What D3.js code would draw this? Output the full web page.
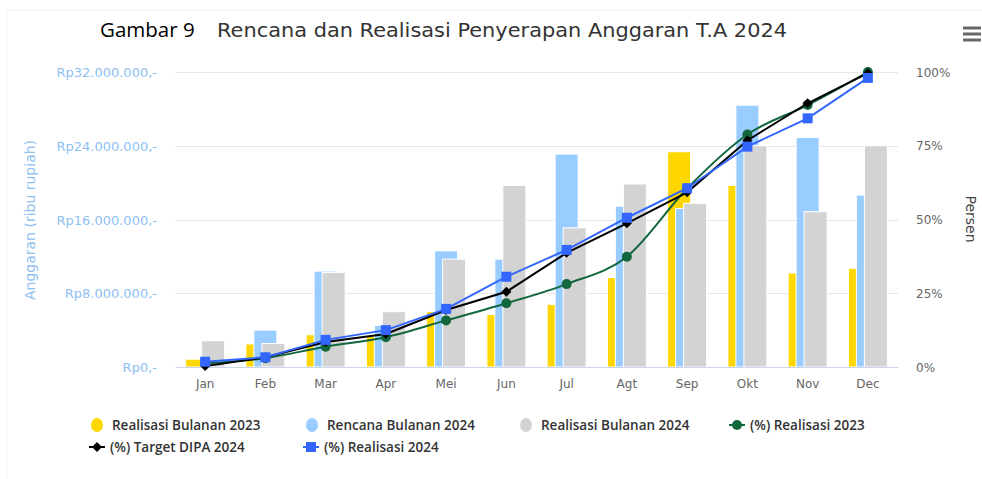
<!DOCTYPE html>
<html>
<head>
<meta charset="utf-8">
<script src="https://cdn.jsdelivr.net/npm/d3@7"></script>
<style>
  body { margin: 0; background: #fff; }
  svg { display: block; }
</style>
</head>
<body>
<svg id="chart" width="982" height="479"></svg>
<script>
// data (anggaran dalam juta rupiah, persen kumulatif)
const months = ['Jan', 'Feb', 'Mar', 'Apr', 'Mei', 'Jun', 'Jul', 'Agt', 'Sep', 'Okt', 'Nov', 'Dec']
const realisasiBulanan2023 = [0.85, 2.5, 3.5, 3.3, 6.0, 5.7, 6.8, 9.7, 23.35, 19.7, 10.2, 10.7]
const rencanaBulanan2024 = [0, 4.0, 10.4, 4.5, 12.6, 11.7, 23.1, 17.45, 17.2, 28.4, 24.9, 18.65]
const realisasiBulanan2024 = [2.85, 2.55, 10.25, 6.0, 11.7, 19.7, 15.1, 19.85, 17.75, 24.0, 16.85, 24.0]
const persenRealisasi2023 = [1.2, 3.0, 6.9, 10.1, 15.8, 21.6, 28.1, 37.4, 60.5, 78.8, 88.8, 100]
const persenTargetDipa2024 = [0.3, 3.3, 8.5, 11.2, 19.3, 25.5, 38.7, 48.7, 59.2, 76.8, 89.4, 99.6]
const persenRealisasi2024 = [1.8, 3.3, 9.2, 12.5, 19.7, 30.6, 39.7, 50.6, 60.6, 74.7, 84.3, 98.0]
const leftTicks = [0, 8, 16, 24, 32]
const rightTicks = [0, 25, 50, 75, 100]

const svg = d3.select('#chart')
const plot = { left: 175, right: 898, top: 72, bottom: 367 }

const barSeries = [
  { name: 'Realisasi Bulanan 2023', values: realisasiBulanan2023, color: '#ffd700' },
  { name: 'Rencana Bulanan 2024', values: rencanaBulanan2024, color: '#99ccff' },
  { name: 'Realisasi Bulanan 2024', values: realisasiBulanan2024, color: '#d3d3d3' }
]
const lineSeries = [
  { name: '(%) Realisasi 2023', values: persenRealisasi2023, color: '#12673d', marker: 'circle', curve: d3.curveMonotoneX },
  { name: '(%) Target DIPA 2024', values: persenTargetDipa2024, color: '#000000', marker: 'diamond', curve: d3.curveLinear },
  { name: '(%) Realisasi 2024', values: persenRealisasi2024, color: '#3366ff', marker: 'square', curve: d3.curveLinear }
]

const x = d3.scaleBand().domain(months).range([plot.left, plot.right])
const offset = d3.scalePoint().domain(barSeries.map(s => s.name)).range([-8, 8])
const barWidth = 23
const yLeft = d3.scaleLinear().domain([0, 32]).range([plot.bottom, plot.top])
const yRight = d3.scaleLinear().domain([0, 100]).range([plot.bottom, plot.top])

const rupiah = v => 'Rp' + d3.format(',')(v * 1e6).replace(/,/g, '.') + ',-'

// chart frame
svg.append('path')
  .attr('d', 'M6.5,479 V10.5 H982')
  .attr('fill', 'none')
  .attr('stroke', '#f3f3f3')

// titles
svg.append('text')
  .attr('x', 100).attr('y', 37)
  .attr('font-family', 'Open Sans, sans-serif')
  .attr('font-size', 20.5)
  .attr('fill', '#000')
  .text('Gambar 9')

svg.append('text')
  .attr('x', 217).attr('y', 37)
  .attr('font-family', 'DejaVu Sans, sans-serif')
  .attr('font-size', 19)
  .attr('fill', '#333')
  .attr('textLength', 570)
  .attr('lengthAdjust', 'spacingAndGlyphs')
  .text('Rencana dan Realisasi Penyerapan Anggaran T.A 2024')

// hamburger
svg.append('g').selectAll('line')
  .data([28, 34, 40])
  .enter()
  .append('line')
  .attr('x1', 963).attr('x2', 981)
  .attr('y1', d => d).attr('y2', d => d)
  .attr('stroke', '#666')
  .attr('stroke-width', 3)

// grid
svg.append('g').selectAll('line')
  .data(leftTicks.slice(1))
  .enter()
  .append('line')
  .attr('x1', plot.left).attr('x2', plot.right)
  .attr('y1', d => Math.round(yLeft(d)) + 0.5).attr('y2', d => Math.round(yLeft(d)) + 0.5)
  .attr('stroke', '#e6e6e6')

// left axis
const leftAxis = svg.append('g')
  .attr('transform', `translate(${plot.left - 10},0)`)
  .call(d3.axisLeft(yLeft).tickValues(leftTicks).tickFormat(rupiah).tickSize(0).tickPadding(8))
leftAxis.select('.domain').remove()
leftAxis.selectAll('text')
  .attr('font-family', 'DejaVu Sans, sans-serif')
  .attr('font-size', 13)
  .attr('fill', '#8ec0f2')
  .attr('dy', '0.35em')

svg.append('text')
  .attr('transform', 'translate(35,220) rotate(-90)')
  .attr('text-anchor', 'middle')
  .attr('font-family', 'DejaVu Sans, sans-serif')
  .attr('font-size', 14)
  .attr('fill', '#8ec0f2')
  .text('Anggaran (ribu rupiah)')

// right axis
const rightAxis = svg.append('g')
  .attr('transform', `translate(${plot.right + 10},0)`)
  .call(d3.axisRight(yRight).tickValues(rightTicks).tickFormat(d => d + '%').tickSize(0).tickPadding(8))
rightAxis.select('.domain').remove()
rightAxis.selectAll('text')
  .attr('font-family', 'DejaVu Sans, sans-serif')
  .attr('font-size', 12)
  .attr('fill', '#666')
  .attr('dy', '0.35em')

svg.append('text')
  .attr('transform', 'translate(966,219) rotate(90)')
  .attr('text-anchor', 'middle')
  .attr('font-family', 'DejaVu Sans, sans-serif')
  .attr('font-size', 14)
  .attr('fill', '#444')
  .text('Persen')

// bars
barSeries.forEach(s => {
  svg.append('g').selectAll('rect')
    .data(s.values.map((v, i) => ({ month: months[i], value: v })))
    .enter()
    .append('rect')
    .attr('x', d => x(d.month) + x.bandwidth() / 2 + offset(s.name) - barWidth / 2)
    .attr('y', d => yLeft(d.value))
    .attr('width', barWidth)
    .attr('height', d => plot.bottom - yLeft(d.value))
    .attr('fill', s.color)
    .attr('stroke', d => d.value > 0 ? '#fff' : 'none')
    .attr('stroke-width', 1)
})

// x axis
const xAxis = svg.append('g')
  .attr('transform', `translate(0,${plot.bottom})`)
  .call(d3.axisBottom(x).tickSize(0).tickPadding(12))
xAxis.select('.domain').attr('stroke', '#ccd6eb')
xAxis.selectAll('text')
  .attr('font-family', 'DejaVu Sans, sans-serif')
  .attr('font-size', 12)
  .attr('fill', '#666')

// marker shapes
function drawMarker(g, type, cx, cy, color) {
  if (type === 'circle') {
    g.append('circle').attr('cx', cx).attr('cy', cy).attr('r', 5).attr('fill', color)
  } else if (type === 'square') {
    g.append('rect').attr('x', cx - 5).attr('y', cy - 5).attr('width', 10).attr('height', 10).attr('fill', color)
  } else {
    g.append('path')
      .attr('d', `M${cx},${cy - 5}L${cx + 5},${cy}L${cx},${cy + 5}L${cx - 5},${cy}Z`)
      .attr('fill', color)
  }
}

// lines
lineSeries.forEach(s => {
  const g = svg.append('g')
  const pts = s.values.map((v, i) => [x(months[i]) + x.bandwidth() / 2, yRight(v)])
  g.append('path')
    .attr('d', d3.line().curve(s.curve)(pts))
    .attr('fill', 'none')
    .attr('stroke', s.color)
    .attr('stroke-width', 2)
  pts.forEach(p => drawMarker(g, s.marker, p[0], p[1], s.color))
})

// legend
const legendItems = [
  { item: barSeries[0], x: 97, y: 425 },
  { item: barSeries[1], x: 312, y: 425 },
  { item: barSeries[2], x: 526, y: 425 },
  { item: lineSeries[0], x: 737, y: 425 },
  { item: lineSeries[1], x: 97, y: 447 },
  { item: lineSeries[2], x: 311, y: 447 }
]
const legend = svg.append('g')
legendItems.forEach(l => {
  const g = legend.append('g')
  if (l.item.marker) {
    g.append('line')
      .attr('x1', l.x - 8).attr('x2', l.x + 8)
      .attr('y1', l.y).attr('y2', l.y)
      .attr('stroke', l.item.color).attr('stroke-width', 2)
    drawMarker(g, l.item.marker, l.x, l.y, l.item.color)
  } else {
    g.append('ellipse')
      .attr('cx', l.x).attr('cy', l.y)
      .attr('rx', 6).attr('ry', 7)
      .attr('fill', l.item.color)
  }
  g.append('text')
    .attr('x', l.x + (l.item.marker ? 13 : 15)).attr('y', l.y)
    .attr('dy', '0.35em')
    .attr('font-family', 'Open Sans, sans-serif')
    .attr('font-weight', 600)
    .attr('font-size', 13.5)
    .attr('fill', '#333')
    .text(l.item.name)
})
</script>
</body>
</html>
